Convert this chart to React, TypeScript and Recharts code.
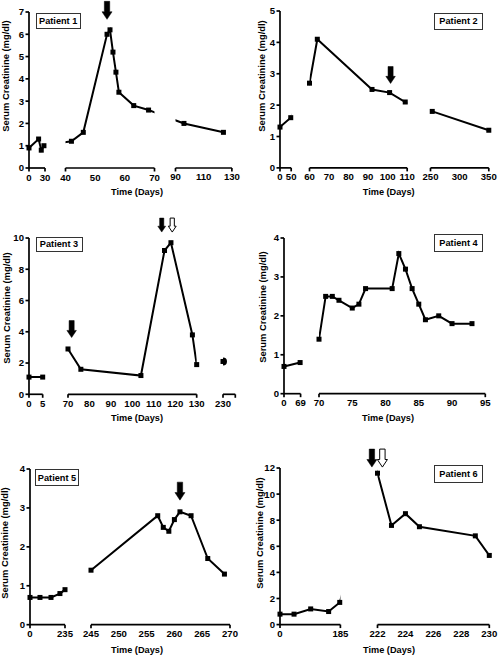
import React from 'react';
import { LineChart, Line, XAxis, YAxis, ReferenceDot, ReferenceLine } from 'recharts';

const FONT = '"Liberation Sans", Arial, Helvetica, sans-serif';

// serum creatinine (mg/dl) against time (days), one pair of arrays per patient
const p1Days = [0, 18, 23, 28, 42, 46, 54, 55, 56, 57, 58, 63, 68, 96, 124];
const p1Cr = [0.9, 1.3, 0.8, 1.0, 1.2, 1.6, 6.0, 6.2, 5.2, 4.3, 3.4, 2.8, 2.6, 2.0, 1.6];
const p1Arrows = [{ day: 54, cr: 6.67, hollow: false }];

const p2Days = [0, 48, 60, 64, 92, 101, 109, 253, 350];
const p2Cr = [1.3, 1.6, 2.7, 4.1, 2.5, 2.4, 2.1, 1.8, 1.2];
const p2Arrows = [{ day: 101.5, cr: 2.69, hollow: false }];

const p3Days = [0, 5, 70, 76, 104, 115, 118, 128, 130, 230];
const p3Cr = [1.1, 1.1, 2.9, 1.6, 1.2, 9.2, 9.7, 3.8, 1.9, 2.1];
const p3Arrows = [
  { day: 71.7, cr: 3.63, hollow: false },
  { day: 113.7, cr: 10.38, hollow: false },
  { day: 118.6, cr: 10.38, hollow: true },
];

const p4Days = [0, 67, 70, 71, 72, 73, 75, 76, 77, 81, 82, 83, 84, 85, 86, 88, 90, 93];
const p4Cr = [0.7, 0.8, 1.4, 2.5, 2.5, 2.4, 2.2, 2.3, 2.7, 2.7, 3.6, 3.2, 2.7, 2.3, 1.9, 2.0, 1.8, 1.8];

const p5Days = [0, 67, 141, 201, 235, 245, 257, 258, 259, 260, 261, 263, 266, 269];
const p5Cr = [0.7, 0.7, 0.7, 0.8, 0.9, 1.4, 2.8, 2.5, 2.4, 2.7, 2.9, 2.8, 1.7, 1.3];
const p5Arrows = [{ day: 261, cr: 3.2, hollow: false }];

const p6Days = [0, 43, 94, 149, 183, 222, 223, 224, 225, 229, 230];
const p6Cr = [0.8, 0.8, 1.2, 1.0, 1.7, 11.6, 7.6, 8.5, 7.5, 6.8, 5.3];
const p6Arrows = [
  { day: 221.6, cr: 12.07, hollow: false },
  { day: 222.35, cr: 12.07, hollow: true },
];

// broken x axes: day range of each piece and its tick labels
const p1Segs = [[0, 30], [40, 70], [90, 130]];
const p1Ticks = [[0, 30], [40, 50, 60, 70], [90, 110, 130]];
const p2Segs = [[0, 50], [60, 110], [250, 350]];
const p2Ticks = [[0, 50], [60, 70, 80, 90, 100, 110], [250, 300, 350]];
const p3Segs = [[0, 5], [70, 130], [230, 240]];
const p3Ticks = [[0, 5], [70, 80, 90, 100, 110, 120, 130], [230, 240]];
const p4Segs = [[0, 69], [70, 95]];
const p4Ticks = [[0, 69], [70, 75, 80, 85, 90, 95]];
const p5Segs = [[0, 235], [245, 270]];
const p5Ticks = [[0, 235], [245, 250, 255, 260, 265, 270]];
const p6Segs = [[0, 185], [222, 230]];
const p6Ticks = [[0, 185], [222, 224, 226, 228, 230]];

type Arrow = { day: number; cr: number; hollow: boolean };
type Panel = {
  title: string;
  days: number[];
  cr: number[];
  arrows: Arrow[];
  segs: number[][];
  ticks: number[][];
  joins: boolean[];
  blank: number[];
  yMax: number;
  yTicks: number[];
  // layout (page pixels)
  yTop: number;
  yBot: number;
  xs: number[][];
  box: number[];
  yLab: number[];
  xLab: number[];
  arrowLen: number[];
};

const panels: Panel[] = [
  {
    title: 'Patient 1', days: p1Days, cr: p1Cr, arrows: p1Arrows, segs: p1Segs, ticks: p1Ticks,
    joins: [true, true], blank: [], yMax: 7, yTicks: [0, 1, 2, 3, 4, 5, 6, 7],
    yTop: 11.7, yBot: 167.7, xs: [[29.3, 45.3], [65, 154], [175.3, 231.7]],
    box: [35.7, 12.5, 45, 16.5], yLab: [6, 76], xLab: [137, 193], arrowLen: [18],
  },
  {
    title: 'Patient 2', days: p2Days, cr: p2Cr, arrows: p2Arrows, segs: p2Segs, ticks: p2Ticks,
    joins: [true, true], blank: [], yMax: 5, yTicks: [0, 1, 2, 3, 4, 5],
    yTop: 10.8, yBot: 167.7, xs: [[280.3, 291.5], [309, 406.7], [430.7, 489]],
    box: [434, 12.5, 49, 17], yLab: [261.7, 76], xLab: [388.7, 193], arrowLen: [17],
  },
  {
    title: 'Patient 3', days: p3Days, cr: p3Cr, arrows: p3Arrows, segs: p3Segs, ticks: p3Ticks,
    joins: [false, false], blank: [240], yMax: 10, yTicks: [0, 2, 4, 6, 8, 10],
    yTop: 237.7, yBot: 394, xs: [[29.3, 43], [68, 196.7], [222.7, 235]],
    box: [35.5, 236.5, 47, 15.5], yLab: [6.5, 308], xLab: [137, 419], arrowLen: [17, 14, 14],
  },
  {
    title: 'Patient 4', days: p4Days, cr: p4Cr, arrows: [], segs: p4Segs, ticks: p4Ticks,
    joins: [false], blank: [], yMax: 4, yTicks: [0, 1, 2, 3, 4],
    yTop: 238.3, yBot: 394, xs: [[283.7, 300.3], [319, 485.3]],
    box: [434, 233.5, 49, 18], yLab: [263, 307], xLab: [388, 419], arrowLen: [],
  },
  {
    title: 'Patient 5', days: p5Days, cr: p5Cr, arrows: p5Arrows, segs: p5Segs, ticks: p5Ticks,
    joins: [false], blank: [], yMax: 4, yTicks: [0, 1, 2, 3, 4],
    yTop: 469.3, yBot: 625, xs: [[30, 65], [91.3, 230.3]],
    box: [35, 469, 44, 17], yLab: [5, 543], xLab: [137, 650.5], arrowLen: [18],
  },
  {
    title: 'Patient 6', days: p6Days, cr: p6Cr, arrows: p6Arrows, segs: p6Segs, ticks: p6Ticks,
    joins: [true], blank: [], yMax: 12, yTicks: [0, 2, 4, 6, 8, 10, 12],
    yTop: 467.7, yBot: 624.3, xs: [[280.3, 340.7], [377.7, 489.5]],
    box: [434, 465, 49, 18], yLab: [259.7, 533], xLab: [389, 650.5], arrowLen: [18, 18],
  },
];

const PAD = 2.5;
const MT = 28;
const XH = 22;
const YW = 24;
const ML = 10;
const MR = 14;

// page x of a day inside axis piece k, and back into the day units of piece k
const toPx = (p: Panel, k: number, day: number) =>
  p.xs[k][0] + ((day - p.segs[k][0]) * (p.xs[k][1] - p.xs[k][0])) / (p.segs[k][1] - p.segs[k][0]);
const toDay = (p: Panel, k: number, px: number) =>
  p.segs[k][0] + ((px - p.xs[k][0]) * (p.segs[k][1] - p.segs[k][0])) / (p.xs[k][1] - p.xs[k][0]);

const Square = (props: any) => {
  const { cx, cy, index } = props;
  if (cx == null || cy == null) return <g key={`n${index}`} />;
  return <rect key={`s${index}`} x={cx - 2.5} y={cy - 2.5} width={5} height={5} fill="#000" />;
};

const ArrowShape = ({ cx, cy, len, hollow }: any) => {
  const w = len * 0.3;
  const hw = len * 0.56;
  const hh = len * 0.42;
  const pts = [
    [cx - w / 2, cy - len], [cx + w / 2, cy - len], [cx + w / 2, cy - hh], [cx + hw / 2, cy - hh],
    [cx, cy], [cx - hw / 2, cy - hh], [cx - w / 2, cy - hh],
  ].map((q) => q.join(',')).join(' ');
  return <polygon points={pts} fill={hollow ? '#fff' : '#000'} stroke="#000" strokeWidth={hollow ? 1 : 0.5} />;
};

function Segment({ p, k }: { p: Panel; k: number }) {
  const [a, b] = p.segs[k];
  const [x0, x1] = p.xs[k];
  const all = p.days.map((d, i) => ({ day: d, cr: p.cr[i] }));
  const inSeg = (j: number) => all.filter((q) => q.day >= p.segs[j][0] && q.day <= p.segs[j][1]);
  const pts = inSeg(k);
  const padL = k > 0 && p.joins[k - 1] ? PAD : 0;
  const padR = k < p.segs.length - 1 && p.joins[k] ? PAD : 0;

  // joined pieces: carry the neighbouring point over so the line leaves the piece toward it
  const line = [...pts];
  if (padL) {
    const prev = inSeg(k - 1);
    const q = prev[prev.length - 1];
    line.unshift({ day: toDay(p, k, toPx(p, k - 1, q.day)), cr: q.cr });
  }
  if (padR) {
    const q = inSeg(k + 1)[0];
    line.push({ day: toDay(p, k, toPx(p, k + 1, q.day)), cr: q.cr });
  }

  const yW = k === 0 ? YW : 0;
  const width = ML + yW + padL + (x1 - x0) + padR + MR;
  const height = MT + (p.yBot - p.yTop) + XH;
  const arrows = p.arrows
    .map((ar, i) => ({ ...ar, len: p.arrowLen[i] }))
    .filter((ar) => ar.day >= a - 1 && ar.day <= b + 1);

  const tick = (props: any) => {
    const { x, y, payload } = props;
    const v = payload.value;
    return (
      <g>
        {(v === a || v === b) && <line x1={x} x2={x} y1={y} y2={y + 3.5} stroke="#000" strokeWidth={1.7} />}
        {!p.blank.includes(v) && (
          <text x={x} y={y + 5.3} dy="0.75em" textAnchor="middle" fontSize={9.6} fontWeight={700} fontFamily={FONT} fill="#000">
            {v}
          </text>
        )}
      </g>
    );
  };

  return (
    <div style={{ position: 'absolute', left: x0 - padL - yW - ML, top: p.yTop - MT }}>
      <LineChart width={width} height={height} margin={{ top: MT, right: MR, bottom: 0, left: ML }}>
        <XAxis
          xAxisId="clip"
          dataKey="day"
          type="number"
          domain={[a, b]}
          allowDataOverflow
          ticks={p.ticks[k]}
          interval={0}
          padding={{ left: padL, right: padR }}
          axisLine={false}
          tickLine={false}
          tickSize={0}
          tickMargin={0}
          height={XH}
          tick={tick}
        />
        <XAxis xAxisId="free" dataKey="day" type="number" domain={[a, b]} padding={{ left: padL, right: padR }} hide />
        {k === 0 ? (
          <YAxis
            type="number"
            domain={[0, p.yMax]}
            ticks={p.yTicks}
            interval={0}
            width={yW}
            axisLine={{ stroke: '#000', strokeWidth: 1.7 }}
            tickLine={{ stroke: '#000', strokeWidth: 1.7 }}
            tickSize={3.5}
            tickMargin={1.5}
            tick={{ fontSize: 9.6, fontWeight: 700, fill: '#000', fontFamily: FONT }}
          />
        ) : (
          <YAxis type="number" domain={[0, p.yMax]} hide />
        )}
        <ReferenceLine
          xAxisId="clip"
          segment={[{ x: a, y: 0 }, { x: b, y: 0 }]}
          stroke="#000"
          strokeWidth={1.7}
        />
        <Line
          xAxisId="clip"
          data={line}
          dataKey="cr"
          type="linear"
          stroke="#000"
          strokeWidth={2}
          dot={false}
          activeDot={false}
          isAnimationActive={false}
        />
        <Line
          xAxisId="free"
          data={pts}
          dataKey="cr"
          type="linear"
          stroke="none"
          dot={Square}
          activeDot={false}
          isAnimationActive={false}
        />
        {arrows.map((ar, i) => (
          <ReferenceDot
            key={i}
            xAxisId="free"
            x={ar.day}
            y={ar.cr}
            ifOverflow="visible"
            shape={(sp: any) => <ArrowShape cx={sp.cx} cy={sp.cy} len={ar.len} hollow={ar.hollow} />}
          />
        ))}
      </LineChart>
    </div>
  );
}

function PanelView({ p }: { p: Panel }) {
  const [bl, bt, bw, bh] = p.box;
  return (
    <>
      {p.segs.map((_, k) => (
        <Segment key={k} p={p} k={k} />
      ))}
      <div
        style={{
          position: 'absolute', left: bl, top: bt, width: bw, height: bh, boxSizing: 'border-box',
          border: '1.5px solid #333', background: '#fff', display: 'flex', alignItems: 'center',
          justifyContent: 'center', fontFamily: FONT, fontWeight: 700, fontSize: 9.2, color: '#000',
        }}
      >
        {p.title}
      </div>
      <div
        style={{
          position: 'absolute', left: p.yLab[0], top: p.yLab[1], transform: 'translate(-50%, -50%) rotate(-90deg)',
          whiteSpace: 'nowrap', fontFamily: FONT, fontWeight: 700, fontSize: 9.4, color: '#000', lineHeight: 1,
        }}
      >
        Serum Creatinine (mg/dl)
      </div>
      <div
        style={{
          position: 'absolute', left: p.xLab[0], top: p.xLab[1], transform: 'translate(-50%, -50%)',
          whiteSpace: 'nowrap', fontFamily: FONT, fontWeight: 700, fontSize: 9.2, color: '#000', lineHeight: 1,
        }}
      >
        Time (Days)
      </div>
    </>
  );
}

export default function App() {
  return (
    <div style={{ position: 'absolute', left: 0, top: 0, width: 498, height: 657, background: '#fff', overflow: 'hidden' }}>
      {panels.map((p) => (
        <PanelView key={p.title} p={p} />
      ))}
    </div>
  );
}
